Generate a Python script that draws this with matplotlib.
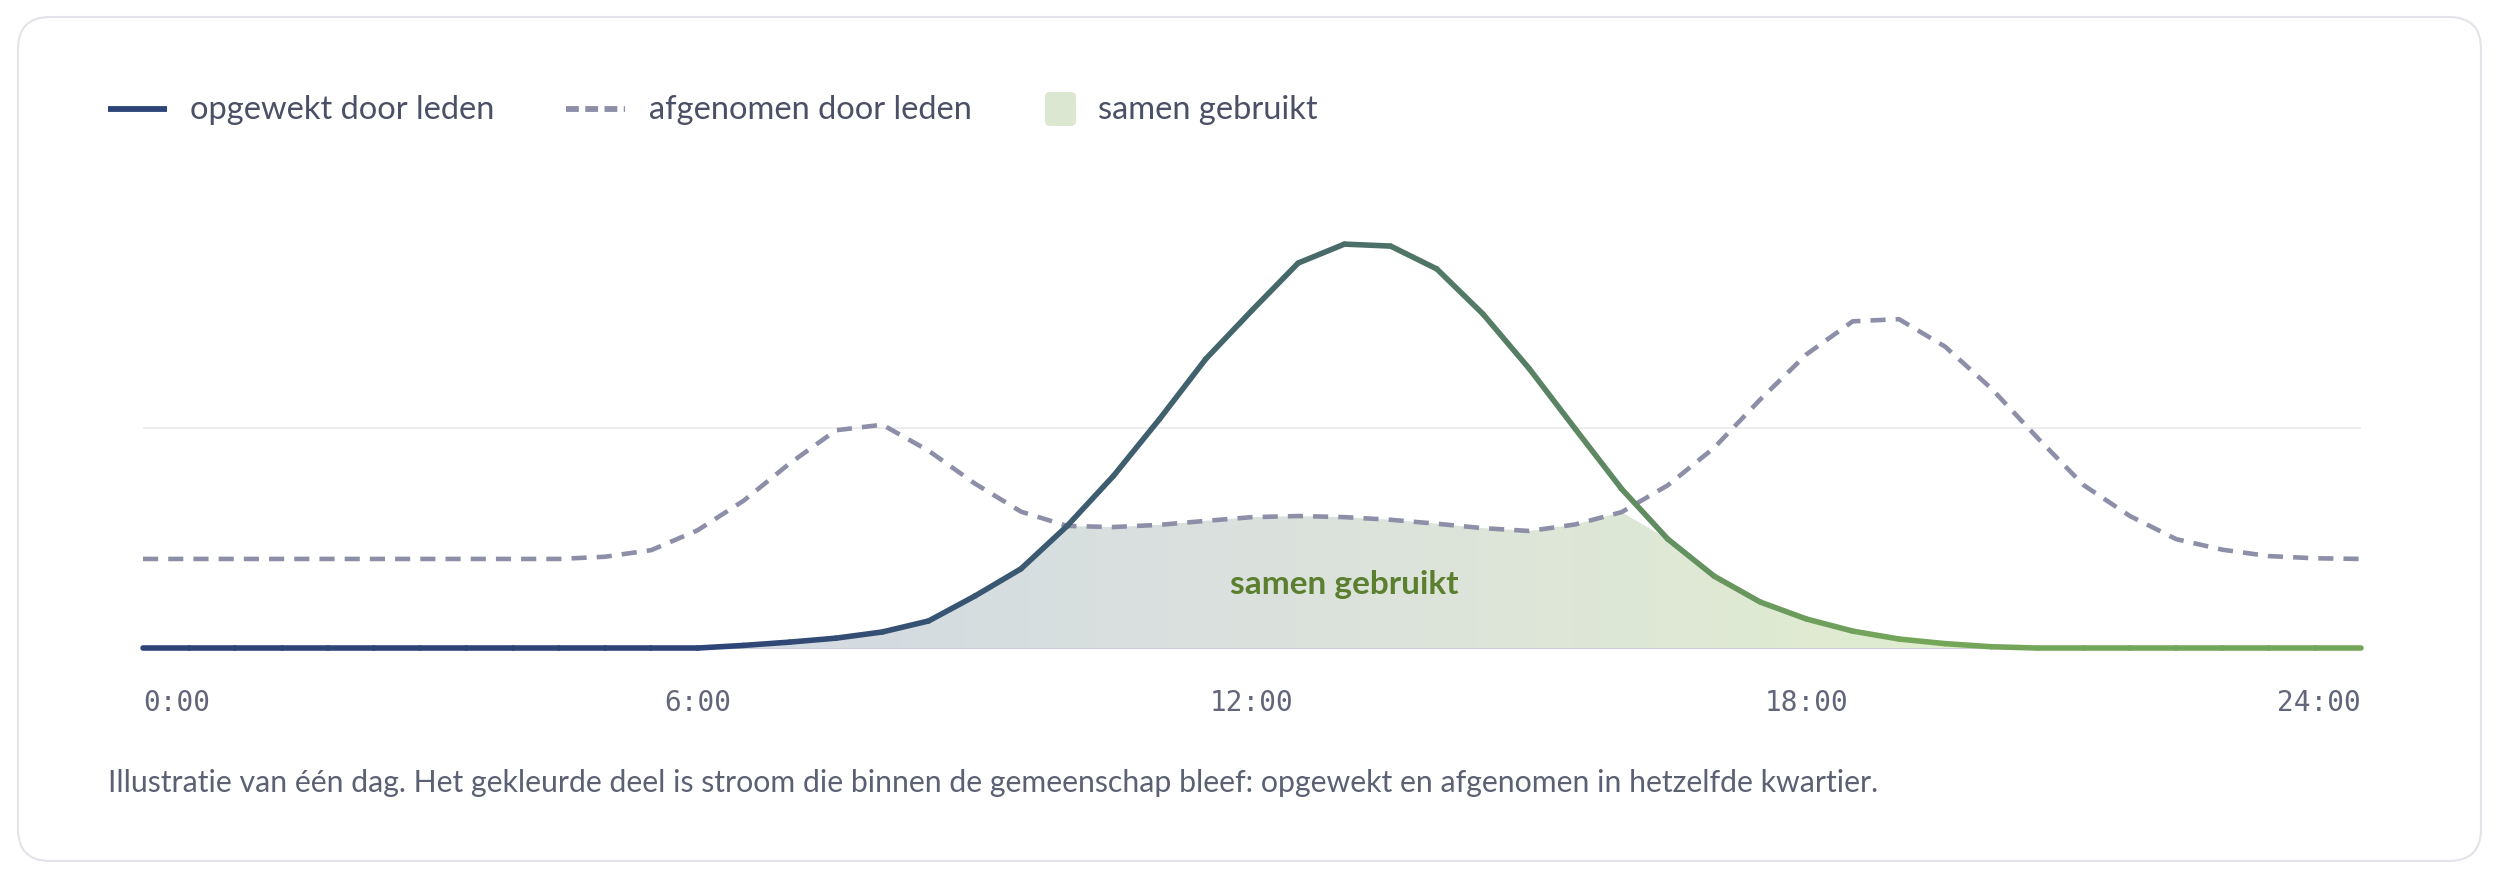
import numpy as np
import matplotlib
matplotlib.use("Agg")
import matplotlib.pyplot as plt
from matplotlib.collections import LineCollection
from matplotlib.colors import LinearSegmentedColormap
from matplotlib.patches import FancyBboxPatch
from matplotlib.lines import Line2D
from matplotlib.path import Path

plt.rcParams['font.family'] = ['Lato', 'DejaVu Sans']

# tijd in uren, per half uur
uren = np.arange(0, 24.5, 0.5)

# opgewekt door leden (zon)
opgewekt = [0, 0, 0, 0, 0, 0, 0, 0, 0, 0, 0, 0, 0,
            0.012, 0.027, 0.045, 0.073, 0.123, 0.236, 0.36, 0.555, 0.782,
            1.041, 1.314, 1.535, 1.75, 1.836, 1.827, 1.723, 1.518, 1.27,
            0.995, 0.723, 0.495, 0.327, 0.209, 0.132, 0.077, 0.041, 0.02,
            0.006, 0, 0, 0, 0, 0, 0, 0, 0]

# afgenomen door leden (verbruik)
afgenomen = [0.405, 0.405, 0.405, 0.405, 0.405, 0.405, 0.405, 0.405, 0.405, 0.405,
             0.415, 0.445, 0.535, 0.67, 0.84, 0.99, 1.015, 0.897, 0.748, 0.62,
             0.555, 0.55, 0.56, 0.578, 0.595, 0.6, 0.595, 0.583, 0.565, 0.545,
             0.532, 0.562, 0.618, 0.74, 0.91, 1.13, 1.335, 1.485, 1.495, 1.37,
             1.18, 0.955, 0.74, 0.6, 0.495, 0.447, 0.418, 0.408, 0.405]

tick_uren = [0, 6, 12, 18, 24]
tick_labels = ['0:00', '6:00', '12:00', '18:00', '24:00']

legend_labels = ['opgewekt door leden', 'afgenomen door leden', 'samen gebruikt']
caption = ('Illustratie van één dag. Het gekleurde deel is stroom die binnen de '
           'gemeenschap bleef: opgewekt en afgenomen in hetzelfde kwartier.')

opgewekt = np.array(opgewekt)
afgenomen = np.array(afgenomen)
samen = np.minimum(opgewekt, afgenomen)

navy = '#2c4478'
green = '#74a65a'
dash_col = '#8d8ea7'
text_col = '#4b5066'

line_cmap = LinearSegmentedColormap.from_list('lijn', [navy, '#46696a', green])
fill_cmap = LinearSegmentedColormap.from_list('vlak', ['#d2d9e2', '#dbe2dd', '#e0ecd0'])
g0, g1 = 6.0, 19.0

fig = plt.figure(figsize=(25, 8.79), dpi=100)

# kaart met afgeronde hoeken
card = FancyBboxPatch((18, 17), 2463, 844, boxstyle='round,pad=0,rounding_size=32',
                      transform=None, facecolor='white', edgecolor='#e2e4e9', lw=1.5,
                      zorder=-5)
fig.patches.append(card)

ax = fig.add_axes([143/2500, 0.2491, (2361-143)/2500, 0.5131])
ax.set_facecolor('none')

ax.axhline(1.0, color='#ececef', lw=1.3, zorder=0)
ax.axhline(0.0, color='#c9ccd3', lw=1.5, zorder=1)

# samen gebruikt: vlak met kleurverloop
poly = ax.fill_between(uren, 0, samen, color='none', lw=0)
clip = Path.make_compound_path(*poly.get_paths())
xs = np.linspace(0, 24, 600)
grad = np.clip((xs - g0) / (g1 - g0), 0, 1).reshape(1, -1)
im = ax.imshow(grad, extent=[0, 24, 0, 2], aspect='auto', cmap=fill_cmap,
               origin='lower', zorder=1, vmin=0, vmax=1)
im.set_clip_path(clip, ax.transData)

# afgenomen (gestippeld)
ax.plot(uren, afgenomen, color=dash_col, lw=3.3, dashes=(3.3, 2.2), zorder=3)

# opgewekt met kleurverloop
pts = np.column_stack([uren, opgewekt])
segs = np.stack([pts[:-1], pts[1:]], axis=1)
mid = (uren[:-1] + uren[1:]) / 2
kleuren = line_cmap(np.clip((mid - g0) / (g1 - g0), 0, 1))
lc = LineCollection(segs, colors=kleuren, linewidths=4.0, capstyle='round',
                    joinstyle='round', zorder=4)
lc.set_clip_on(False)
ax.add_collection(lc)

ax.text(13.0, 0.295, 'samen gebruikt', ha='center', va='center', fontsize=24,
        fontweight='bold', color='#5b7f2f', zorder=5)

ax.set_xlim(0, 24)
ax.set_ylim(-0.05, 2.0)
ax.set_xticks(tick_uren, tick_labels)
ax.tick_params(axis='x', length=0, pad=21, labelsize=20, labelcolor='#63667b')
for lab, ha in zip(ax.get_xticklabels(), ['left', 'center', 'center', 'center', 'right']):
    lab.set_ha(ha)
    lab.set_family('DejaVu Sans Mono')
ax.set_yticks([])
for s in ax.spines.values():
    s.set_visible(False)

# legenda
ly = 1 - 110/879
fig.add_artist(Line2D([108/2500, 167/2500], [ly, ly], color=navy, lw=4.2,
                      solid_capstyle='butt'))
fig.text(190/2500, ly, legend_labels[0], va='center', fontsize=23.5, color=text_col)
fig.add_artist(Line2D([566/2500, 625/2500], [ly, ly], color=dash_col, lw=4.2,
                      dashes=(2.2, 1.1)))
fig.text(649/2500, ly, legend_labels[1], va='center', fontsize=23.5, color=text_col)
sq = FancyBboxPatch((1045, 879-127), 31, 34, boxstyle='round,pad=0,rounding_size=5',
                    transform=None, facecolor='#dce7d1', edgecolor='none')
fig.patches.append(sq)
fig.text(1098/2500, ly, legend_labels[2], va='center', fontsize=23.5, color=text_col)

fig.text(108/2500, 1 - 783/879, caption, va='center', fontsize=21.8, color='#5b6073')

fig.savefig('out.png', dpi=100, facecolor='white')
